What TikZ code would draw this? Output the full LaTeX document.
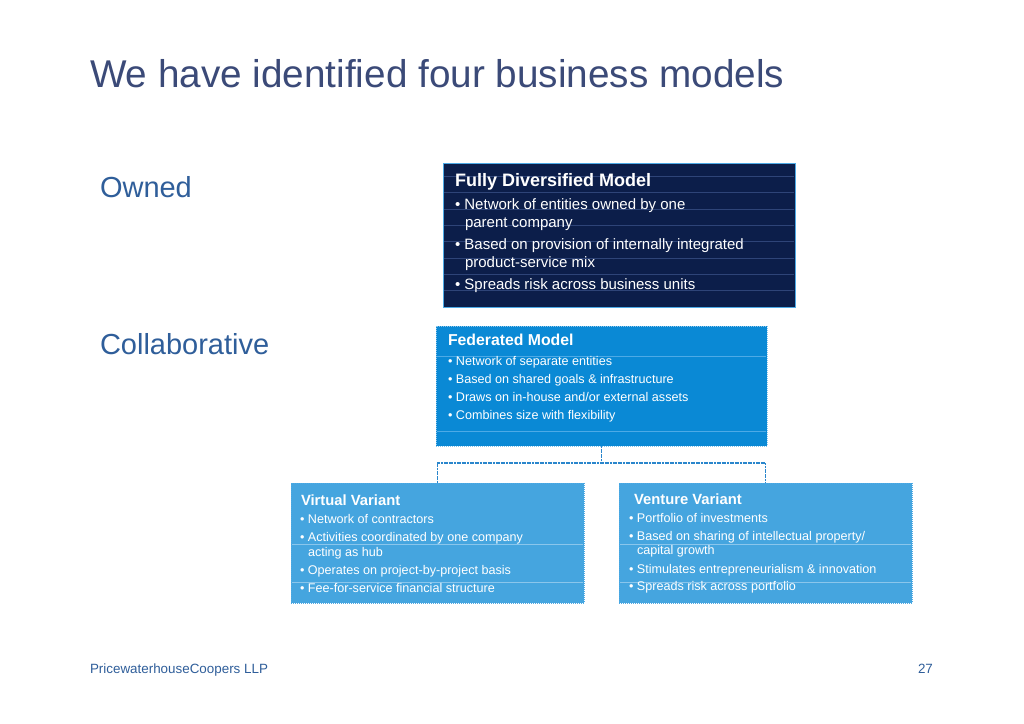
\documentclass[tikz,border=0pt]{standalone}
\usepackage{fontspec}
\setmainfont{Liberation Sans}
\definecolor{titlecol}{HTML}{3B4A78}
\definecolor{catcol}{HTML}{2F5E9A}
\definecolor{navy}{HTML}{0C1E4A}
\definecolor{navyline}{HTML}{2E4478}
\definecolor{fedblue}{HTML}{0A89D5}
\definecolor{fedline}{HTML}{4DAAE6}
\definecolor{varblue}{HTML}{45A5DF}
\definecolor{varline}{HTML}{8AC6EC}
\definecolor{connblue}{HTML}{2A86CC}
\tikzset{
  txt/.style={anchor=base west, inner sep=0pt, outer sep=0pt},
  ttl/.style={txt, text=titlecol, font=\fontsize{38.7bp}{44bp}\selectfont},
  cat/.style={txt, text=catcol, font=\fontsize{29bp}{34bp}\selectfont},
  foot/.style={txt, text=catcol, font=\fontsize{13.4bp}{16bp}\selectfont},
  boxbase/.style={anchor=north west, inner sep=0pt, outer sep=0pt},
  fdbox/.style={boxbase, fill=navy, draw=fedline, line width=0.8bp},
  fedbox/.style={boxbase, fill=fedblue, draw=varline, line width=1bp, dash pattern=on 1bp off 1bp},
  varbox/.style={boxbase, fill=varblue, draw=fedline, line width=1bp, dash pattern=on 1bp off 1bp},
  bighead/.style={txt, text=white, font=\bfseries\fontsize{18bp}{22bp}\selectfont},
  bigtxt/.style={txt, text=white, font=\fontsize{15bp}{18bp}\selectfont},
  midhead/.style={txt, text=white, font=\bfseries\fontsize{15.8bp}{19bp}\selectfont},
  smallhead/.style={txt, text=white, font=\bfseries\fontsize{14.8bp}{18bp}\selectfont},
  smalltxt/.style={txt, text=white, font=\fontsize{12.6bp}{15bp}\selectfont},
  conn/.style={draw=connblue, line width=1.5bp, dash pattern=on 2bp off 0.6bp},
}
\begin{document}
\begin{tikzpicture}[x=1bp,y=-1bp]
\useasboundingbox (0,0) rectangle (1024,724);
\fill[white] (0,0) rectangle (1024,724);

% title and category labels
\node[ttl] (title) at (90,88) {We have identified four business models};
\node[cat] (owned) at (100,198) {Owned};
\node[cat] (collab) at (100,354) {Collaborative};

% Fully diversified model
\node[fdbox, minimum width=352bp, minimum height=144bp] (fdm) at (443,163) {};
\foreach \yy in {176,192,209,225,241,258,274,290}
  \draw[navyline, line width=0.6bp] (444,\yy) -- (794,\yy);
\node[bighead] (fdmh) at (455,187) {Fully Diversified Model};
\node[bigtxt] (fdm1) at (455,209) {\textbullet\ Network of entities owned by one};
\node[bigtxt] (fdm1b) at (465,227) {parent company};
\node[bigtxt] (fdm2) at (455,249) {\textbullet\ Based on provision of internally integrated};
\node[bigtxt] (fdm2b) at (465,267) {product-service mix};
\node[bigtxt] (fdm3) at (455,289) {\textbullet\ Spreads risk across business units};

% Federated model
\node[fedbox, minimum width=331bp, minimum height=120bp] (fed) at (436,326) {};
\draw[fedline, line width=0.6bp] (437,356) -- (766,356);
\draw[fedline, line width=0.6bp] (437,431) -- (766,431);
\node[midhead] (fedh) at (448,345) {Federated Model};
\node[smalltxt] (fed1) at (448,365) {\textbullet\ Network of separate entities};
\node[smalltxt] (fed2) at (448,383) {\textbullet\ Based on shared goals \& infrastructure};
\node[smalltxt] (fed3) at (448,401) {\textbullet\ Draws on in-house and/or external assets};
\node[smalltxt] (fed4) at (448,419) {\textbullet\ Combines size with flexibility};

% Virtual variant
\node[varbox, minimum width=293bp, minimum height=120bp] (virt) at (291,483) {};
\draw[varline, line width=0.6bp] (292,544) -- (583,544);
\draw[varline, line width=0.6bp] (292,582) -- (583,582);
\node[smallhead] (virth) at (301,505) {Virtual Variant};
\node[smalltxt] (virt1) at (300,523) {\textbullet\ Network of contractors};
\node[smalltxt] (virt2) at (300,541) {\textbullet\ Activities coordinated by one company};
\node[smalltxt] (virt2b) at (308,556) {acting as hub};
\node[smalltxt] (virt3) at (300,574) {\textbullet\ Operates on project-by-project basis};
\node[smalltxt] (virt4) at (300,592) {\textbullet\ Fee-for-service financial structure};

% Venture variant
\node[varbox, minimum width=293bp, minimum height=120bp] (vent) at (619,483) {};
\draw[varline, line width=0.6bp] (620,544) -- (911,544);
\draw[varline, line width=0.6bp] (620,582) -- (911,582);
\node[smallhead] (venth) at (634,504) {Venture Variant};
\node[smalltxt] (vent1) at (629,522) {\textbullet\ Portfolio of investments};
\node[smalltxt] (vent2) at (629,540) {\textbullet\ Based on sharing of intellectual property/};
\node[smalltxt] (vent2b) at (637,554) {capital growth};
\node[smalltxt] (vent3) at (629,573) {\textbullet\ Stimulates entrepreneurialism \& innovation};
\node[smalltxt] (vent4) at (629,590) {\textbullet\ Spreads risk across portfolio};

% connectors
\coordinate (jl) at ([yshift=20bp]virt.north);
\coordinate (jr) at ([yshift=20bp]vent.north);
\draw[conn] (fed.south) -- (fed.south |- jl);
\draw[conn] (virt.north) -- (jl) -- (jr) -- (vent.north);

% footer
\node[foot] (pwc) at (90,673) {PricewaterhouseCoopers LLP};
\node[foot] (page) at (918,673) {27};
\end{tikzpicture}
\end{document}
